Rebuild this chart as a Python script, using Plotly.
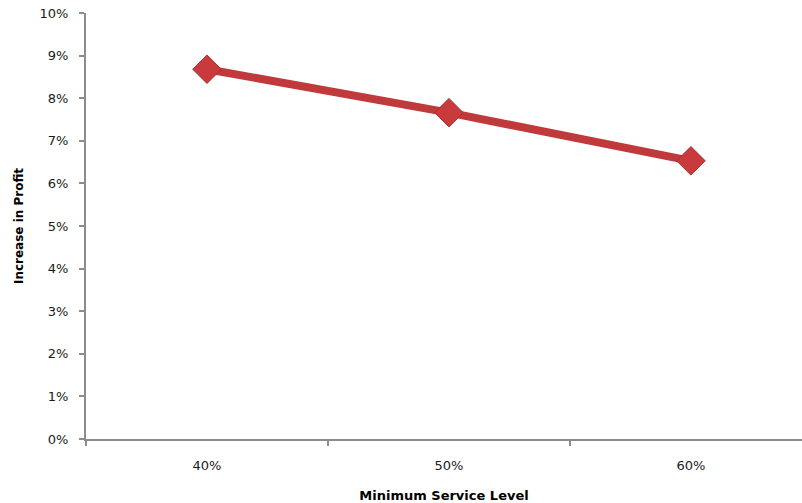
import plotly.graph_objects as go

# Minimum service level categories and the resulting profit increase
service_levels = ["40%", "50%", "60%"]
profit_increase = [0.0868, 0.0766, 0.0653]

y_ticks = [i / 100 for i in range(0, 11)]
y_tick_labels = [f"{i}%" for i in range(0, 11)]

line_red = "#C0393B"
axis_grey = "#8C8C8C"
font_family = "DejaVu Sans"

fig = go.Figure()
fig.add_trace(go.Scatter(
    x=service_levels,
    y=profit_increase,
    mode="lines+markers",
    line=dict(color=line_red, width=8),
    marker=dict(symbol="diamond", size=22, color="#C83A3C",
                line=dict(color="#A82F31", width=1)),
    showlegend=False,
    cliponaxis=False,
))

fig.update_layout(
    width=802,
    height=503,
    margin=dict(l=86, r=0, t=13, b=64),
    paper_bgcolor="white",
    plot_bgcolor="white",
    font=dict(family=font_family, size=13, color="#1A1A1A"),
    xaxis=dict(
        type="category",
        range=[-0.5, 2.459],
        showline=True,
        linecolor=axis_grey,
        linewidth=2,
        ticks="outside",
        tickson="boundaries",
        ticklen=5,
        tickcolor=axis_grey,
        tickwidth=2,
        showgrid=False,
        zeroline=False,
        tickfont=dict(size=13, color="#1A1A1A"),
        ticklabelstandoff=13,
        title=dict(text="<b>Minimum Service Level</b>",
                   font=dict(size=13, color="#000000"), standoff=19),
    ),
    yaxis=dict(
        range=[0, 0.10],
        tickvals=y_ticks,
        ticktext=y_tick_labels,
        showline=True,
        linecolor=axis_grey,
        linewidth=2,
        ticks="outside",
        ticklen=5,
        tickcolor=axis_grey,
        tickwidth=2,
        showgrid=False,
        zeroline=False,
        tickfont=dict(size=13, color="#1A1A1A"),
        ticklabelstandoff=8,
        title=dict(text="<b>Increase in Profit</b>",
                   font=dict(size=12, color="#000000"), standoff=13),
    ),
)

fig.write_html("out.html")
